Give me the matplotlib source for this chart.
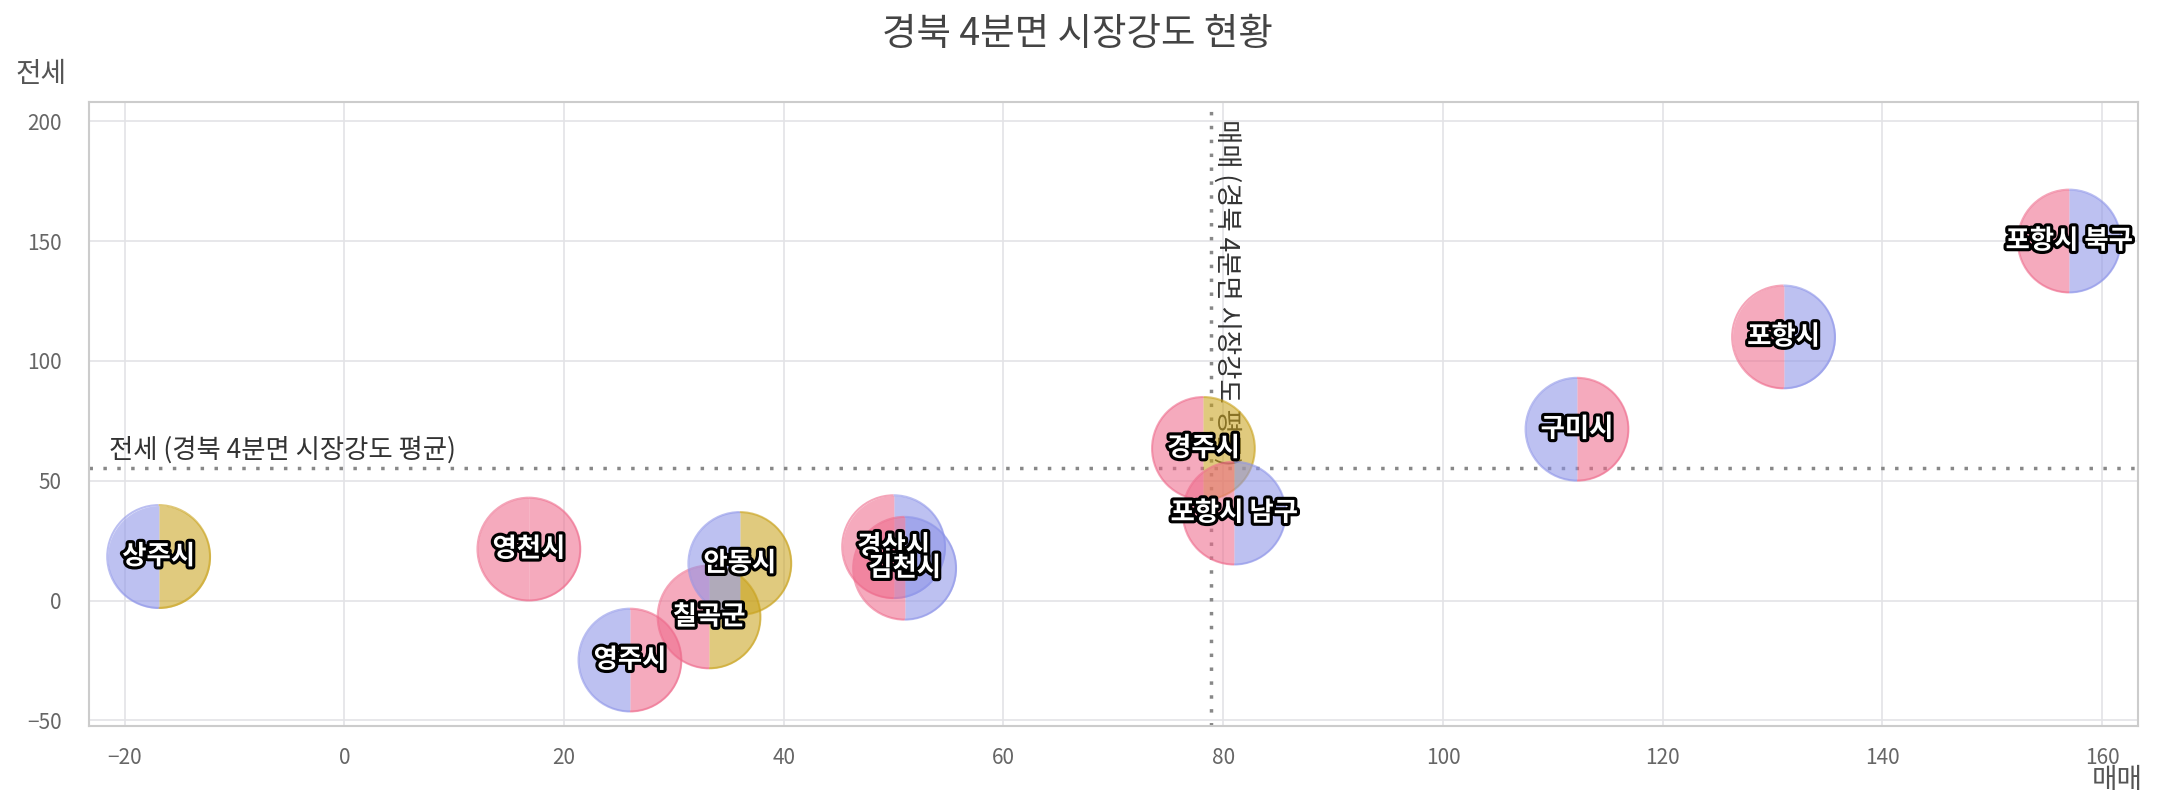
import numpy as np
import matplotlib
matplotlib.use('Agg')
from matplotlib import pyplot as plt
from matplotlib.markers import MarkerStyle
from matplotlib.path import Path
import matplotlib.patheffects as pe

plt.rcParams['font.family'] = ['Noto Sans CJK KR', 'DejaVu Sans']

# region names, 매매 (x) and 전세 (y) strength
regions = ['상주시', '영천시', '영주시', '칠곡군', '안동시', '경산시', '김천시',
           '경주시', '포항시 남구', '구미시', '포항시', '포항시 북구']
sale = [-16.9, 16.8, 26.0, 33.2, 36.0, 50.0, 51.0, 78.2, 81.0, 112.2, 131.0, 157.0]
jeonse = [18.4, 21.5, -24.8, -6.8, 15.5, 22.5, 13.5, 63.5, 36.5, 71.5, 110.0, 150.0]
# colour class of left half (매매) and right half (전세)
left_cls = ['blue', 'pink', 'blue', 'pink', 'blue', 'pink', 'pink',
            'pink', 'pink', 'blue', 'pink', 'pink']
right_cls = ['gold', 'pink', 'pink', 'gold', 'gold', 'blue', 'blue',
             'gold', 'blue', 'pink', 'blue', 'blue']

sale_avg = 78.9
jeonse_avg = 55.2

colors = {'pink': '#EE6A8B', 'blue': '#8C93E8', 'gold': '#C9A21C'}

fig = plt.figure(figsize=(21.6, 8), dpi=100)
ax = fig.add_axes([0.0414, 0.0925, 0.9486, 0.78])

ax.set_xlim(-23.2, 163.3)
ax.set_ylim(-52.3, 208)
ax.set_xticks(np.arange(-20, 161, 20))
ax.set_yticks(np.arange(-50, 201, 50))
ax.grid(True, color='#e3e3e6', linewidth=1.2)
ax.set_axisbelow(True)
for s in ax.spines.values():
    s.set_color('#cccccc')
    s.set_linewidth(1.5)
ax.tick_params(length=0, labelsize=15, labelcolor='#666666')
ax.tick_params(axis='y', pad=20)
ax.tick_params(axis='x', pad=15)

# average lines
ax.axhline(jeonse_avg, color='#888888', linestyle=(0, (1, 3)), linewidth=2.5, zorder=1)
ax.axvline(sale_avg, color='#888888', linestyle=(0, (1, 3)), linewidth=2.5, zorder=1)
ax.text(-21.4, jeonse_avg + 2, '전세 (경북 4분면 시장강도 평균)', fontsize=19,
        color='#333333', ha='left', va='bottom', zorder=2)
ax.text(sale_avg + 0.2, 201, '매매 (경북 4분면 시장강도 평균)', fontsize=19,
        color='#333333', rotation=-90, ha='left', va='top', zorder=2)

left_half = MarkerStyle('o', fillstyle='left')
right_half = MarkerStyle('o', fillstyle='right')
left_arc = Path.arc(90, 270)
right_arc = Path.arc(-90, 90)
size = 74 ** 2

for i in range(len(regions)):
    lc = colors[left_cls[i]]
    rc = colors[right_cls[i]]
    ax.scatter([sale[i]], [jeonse[i]], s=size, marker=left_half, color=lc,
               alpha=0.57, linewidths=0, zorder=3)
    ax.scatter([sale[i]], [jeonse[i]], s=size, marker=right_half, color=rc,
               alpha=0.57, linewidths=0, zorder=3)
    ax.scatter([sale[i]], [jeonse[i]], s=size, marker=left_arc, facecolors='none',
               edgecolors=lc, alpha=0.6, linewidths=1.5, zorder=3)
    ax.scatter([sale[i]], [jeonse[i]], s=size, marker=right_arc, facecolors='none',
               edgecolors=rc, alpha=0.6, linewidths=1.5, zorder=3)

for i in range(len(regions)):
    ax.text(sale[i], jeonse[i], regions[i], fontsize=19, fontweight='bold',
            color='white', ha='center', va='center', zorder=5,
            path_effects=[pe.withStroke(linewidth=4.5, foreground='black')])

fig.suptitle('경북 4분면 시장강도 현황', x=0.499, y=0.957, va='center',
             fontsize=27, color='#444444')
fig.text(0.007, 0.907, '전세', fontsize=20, color='#555555', ha='left', va='center')
fig.text(0.992, 0.025, '매매', fontsize=20, color='#555555', ha='right', va='center')

fig.savefig('out.png', dpi=100)
